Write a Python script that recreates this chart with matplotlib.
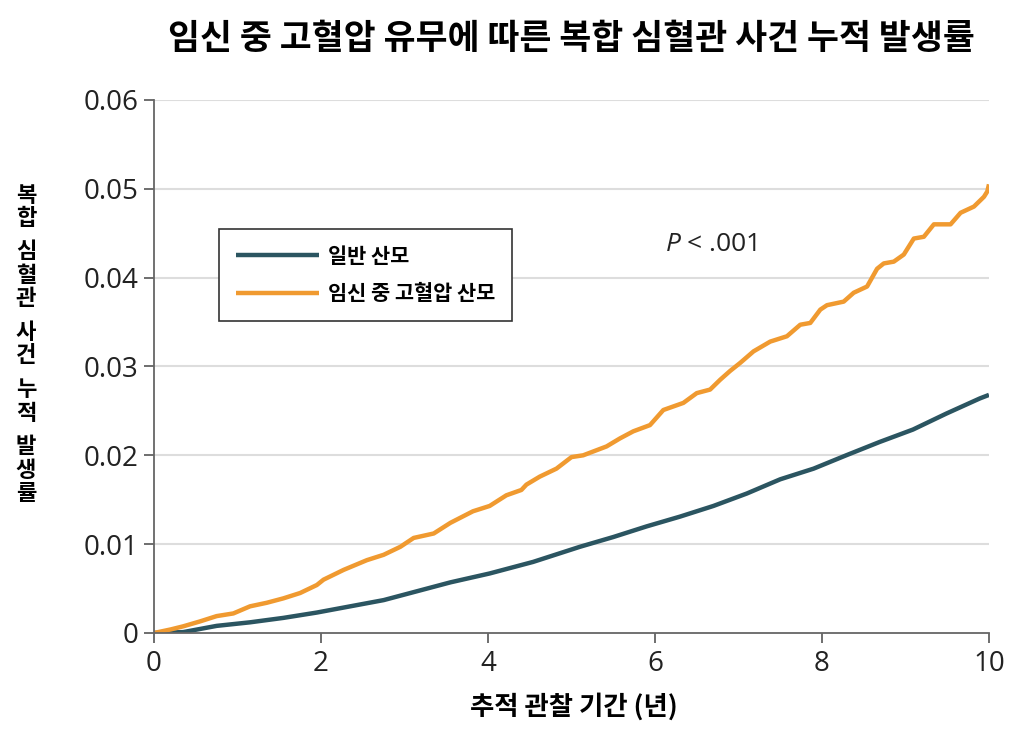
import matplotlib
matplotlib.use("Agg")
import matplotlib.pyplot as plt

t_orange = [0.0, 0.2, 0.35, 0.55, 0.75, 0.95, 1.15, 1.35, 1.55, 1.75, 1.95, 2.03,
            2.27, 2.55, 2.75, 2.95, 3.11, 3.35, 3.55, 3.82, 4.02, 4.22, 4.40, 4.46,
            4.62, 4.82, 5.0, 5.14, 5.42, 5.58, 5.74, 5.94, 6.10, 6.34, 6.50, 6.66,
            6.78, 6.90, 7.02, 7.18, 7.38, 7.58, 7.74, 7.86, 7.98, 8.06, 8.26, 8.38,
            8.54, 8.66, 8.74, 8.86, 8.98, 9.10, 9.22, 9.34, 9.54, 9.66, 9.82, 9.94,
            9.98, 10.0]
v_orange = [0.0, 0.0004, 0.00075, 0.0013, 0.0019, 0.0022, 0.0030, 0.0034, 0.0039,
            0.0045, 0.0054, 0.0060, 0.0071, 0.0082, 0.0088, 0.0097, 0.0107, 0.0112,
            0.0124, 0.0137, 0.0143, 0.0155, 0.0161, 0.0167, 0.0176, 0.0185, 0.0198,
            0.0200, 0.0210, 0.0219, 0.0227, 0.0234, 0.0251, 0.0259, 0.0270, 0.0274,
            0.0285, 0.0295, 0.0304, 0.0317, 0.0328, 0.0334, 0.0347, 0.0349, 0.0364,
            0.0369, 0.0373, 0.0383, 0.0390, 0.0410, 0.0416, 0.0418, 0.0426, 0.0444,
            0.0446, 0.0460, 0.0460, 0.0473, 0.0480, 0.0491, 0.0497, 0.0505]

t_teal = [0.0, 0.35, 0.75, 1.15, 1.55, 1.95, 2.35, 2.75, 3.15, 3.55, 4.02, 4.54,
          5.10, 5.50, 5.90, 6.30, 6.70, 7.10, 7.50, 7.90, 8.29, 8.69, 9.09, 9.49,
          9.89, 10.0]
v_teal = [0.0, 0.0001, 0.0008, 0.0012, 0.0017, 0.0023, 0.0030, 0.0037, 0.0047,
          0.0057, 0.0067, 0.0080, 0.0097, 0.0108, 0.0120, 0.0131, 0.0143, 0.0157,
          0.0173, 0.0185, 0.0200, 0.0215, 0.0229, 0.0247, 0.0264, 0.0268]

labels = ["일반 산모", "임신 중 고혈압 산모"]
x_ticks = [0, 2, 4, 6, 8, 10]
y_ticks = [0, 0.01, 0.02, 0.03, 0.04, 0.05, 0.06]
y_ticklabels = ["0", "0.01", "0.02", "0.03", "0.04", "0.05", "0.06"]

title = "임신 중 고혈압 유무에 따른 복합 심혈관 사건 누적 발생률"
ylabel = "복합 심혈관 사건 누적 발생률"
xlabel = "추적 관찰 기간 (년)"

teal = "#2b5561"
orange = "#f09a30"
kr = ["Noto Sans CJK KR", "DejaVu Sans"]
num = ["Open Sans", "DejaVu Sans"]

plt.rcParams["mathtext.fontset"] = "custom"
plt.rcParams["mathtext.it"] = "Open Sans:italic"
plt.rcParams["mathtext.rm"] = "Open Sans"

W, H = 1016, 735
fig = plt.figure(figsize=(W / 100, H / 100), dpi=100)
ax = fig.add_axes([0.1516, 0.1388, 0.8218, 0.7252])

ax.plot(t_teal, v_teal, color=teal, lw=3.2, label=labels[0], solid_capstyle="butt")
ax.plot(t_orange, v_orange, color=orange, lw=3.2, label=labels[1], solid_capstyle="butt")

ax.set_xlim(0, 10)
ax.set_ylim(0, 0.06)
ax.set_xticks(x_ticks)
ax.set_xticklabels([str(x) for x in x_ticks], family=num, fontsize=20, color="#222222")
ax.set_yticks(y_ticks)
ax.set_yticklabels(y_ticklabels, family=num, fontsize=20, color="#222222")
ax.tick_params(axis="both", direction="out", length=7, width=1.2, color="#555555")
ax.tick_params(axis="x", pad=5)
ax.tick_params(axis="y", pad=4)

for yv in y_ticks[1:]:
    ax.axhline(yv, color="#dddddd", lw=1.5, zorder=0)

for s in ["top", "right"]:
    ax.spines[s].set_visible(False)
for s in ["left", "bottom"]:
    ax.spines[s].set_color("#666666")
    ax.spines[s].set_linewidth(1.3)

fig.text(0.5625, 0.948, title, family=kr, fontsize=25, fontweight="bold",
         ha="center", va="center")
fig.text(0.565, 0.038, xlabel, family=kr, fontsize=19, fontweight="bold",
         ha="center", va="center")

# y label: characters stacked upright, one per row
ypix = 195
for word in ylabel.split(" "):
    for ch in word:
        fig.text(26 / W, 1 - ypix / H, ch, family=kr, fontsize=16, fontweight="bold",
                 ha="center", va="center")
        ypix += 23.5
    ypix += 10

ax.text(6.12, 0.0437, "$P$ < .001", family=num, fontsize=19, color="#222222",
        ha="left", va="center")

leg = ax.legend(loc="upper left", bbox_to_anchor=(0.0778, 0.758), borderaxespad=0,
                prop={"family": kr, "weight": "bold", "size": 15},
                handlelength=4.0, labelspacing=0.8, fancybox=False, framealpha=1,
                edgecolor="#333333", borderpad=0.8, handletextpad=0.45)
leg.get_frame().set_linewidth(1.2)

fig.savefig("out.png", dpi=100)
